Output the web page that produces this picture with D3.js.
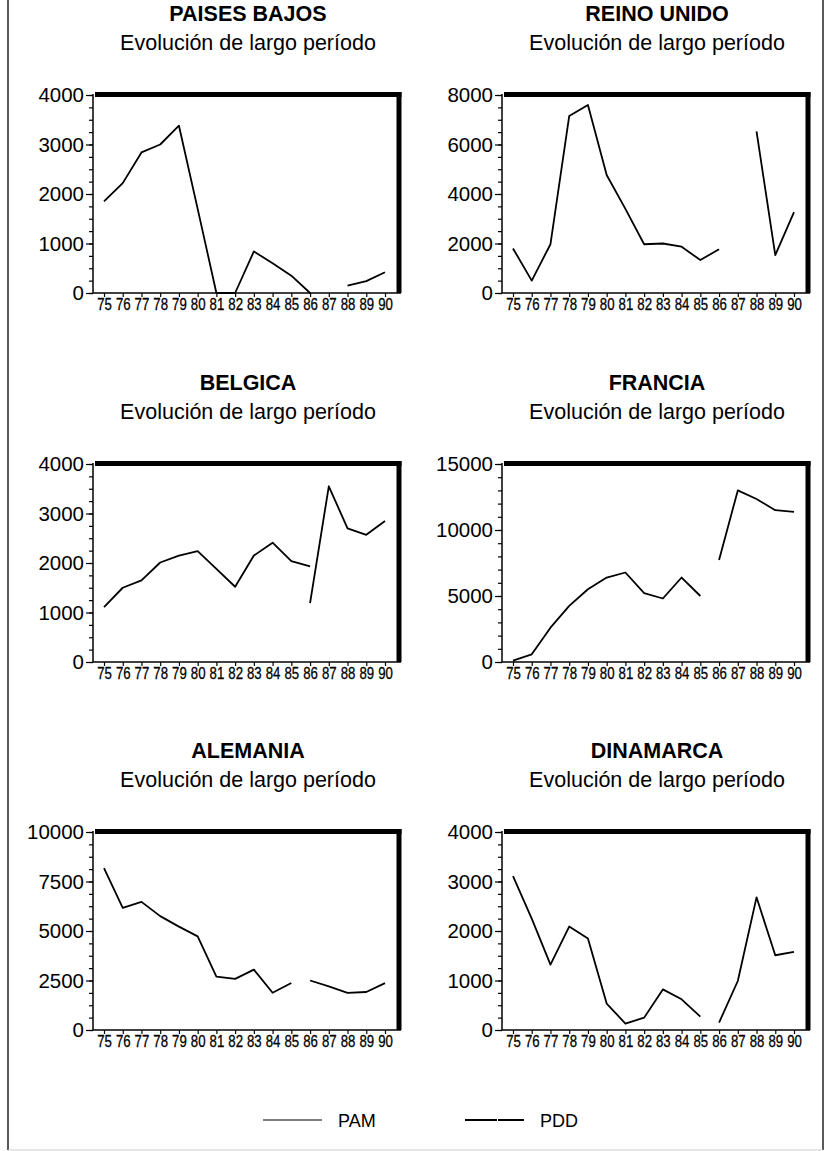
<!DOCTYPE html>
<html>
<head>
<meta charset="utf-8">
<style>
  body { margin: 0; background: #fff; }
  svg { display: block; font-family: "Liberation Sans", Arial, Helvetica, sans-serif; }
</style>
</head>
<body>
<div id="chart"></div>
<script src="https://d3js.org/d3.v7.min.js"></script>
<script>
// years on the x axis
var years = ["75", "76", "77", "78", "79", "80", "81", "82", "83", "84", "85", "86", "87", "88", "89", "90"];

// PAISES BAJOS
var pamPaisesBajos = [1850, 2220, 2840, 3000, 3380, 1700, 0, 0, 840, 600, 350, 0, null, null, null, null];
var pddPaisesBajos = [null, null, null, null, null, null, null, null, null, null, null, null, null, 150, 240, 420];
var ticksPaisesBajos = [0, 1000, 2000, 3000, 4000];

// REINO UNIDO
var pamReinoUnido = [1800, 500, 1970, 7150, 7600, 4770, 3400, 1970, 2000, 1870, 1330, 1770, null, null, null, null];
var pddReinoUnido = [null, null, null, null, null, null, null, null, null, null, null, null, null, 6530, 1530, 3270];
var ticksReinoUnido = [0, 2000, 4000, 6000, 8000];

// BELGICA
var pamBelgica = [1110, 1500, 1650, 2010, 2150, 2240, 1880, 1520, 2150, 2410, 2040, 1930, null, null, null, null];
var pddBelgica = [null, null, null, null, null, null, null, null, null, null, null, 1190, 3550, 2700, 2570, 2850];
var ticksBelgica = [0, 1000, 2000, 3000, 4000];

// FRANCIA
var pamFrancia = [100, 580, 2600, 4250, 5510, 6400, 6780, 5210, 4810, 6400, 5000, null, null, null, null, null];
var pddFrancia = [null, null, null, null, null, null, null, null, null, null, null, 7720, 13000, 12350, 11500, 11380];
var ticksFrancia = [0, 5000, 10000, 15000];

// ALEMANIA
var pamAlemania = [8170, 6170, 6470, 5750, 5220, 4730, 2700, 2580, 3050, 1880, 2370, null, null, null, null, null];
var pddAlemania = [null, null, null, null, null, null, null, null, null, null, null, 2500, 2200, 1880, 1920, 2370];
var ticksAlemania = [0, 2500, 5000, 7500, 10000];

// DINAMARCA
var pamDinamarca = [3110, 2250, 1320, 2090, 1850, 535, 130, 250, 820, 620, 270, null, null, null, null, null];
var pddDinamarca = [null, null, null, null, null, null, null, null, null, null, null, 150, 990, 2680, 1510, 1580];
var ticksDinamarca = [0, 1000, 2000, 3000, 4000];

var subtitle = "Evolución de largo período";
var legendNames = ["PAM", "PDD"];

var panels = [
  { title: "PAISES BAJOS", pam: pamPaisesBajos, pdd: pddPaisesBajos, ticks: ticksPaisesBajos, minor: 4, col: 0, row: 0 },
  { title: "REINO UNIDO", pam: pamReinoUnido, pdd: pddReinoUnido, ticks: ticksReinoUnido, minor: 4, col: 1, row: 0 },
  { title: "BELGICA", pam: pamBelgica, pdd: pddBelgica, ticks: ticksBelgica, minor: 4, col: 0, row: 1 },
  { title: "FRANCIA", pam: pamFrancia, pdd: pddFrancia, ticks: ticksFrancia, minor: 5, col: 1, row: 1 },
  { title: "ALEMANIA", pam: pamAlemania, pdd: pddAlemania, ticks: ticksAlemania, minor: 4, col: 0, row: 2 },
  { title: "DINAMARCA", pam: pamDinamarca, pdd: pddDinamarca, ticks: ticksDinamarca, minor: 4, col: 1, row: 2 }
];

var W = 825, H = 1151;
var colX = [93, 502];          // y axis position
var rowTop = [95, 464, 832];   // top of plot
var plotW = 306, plotH = 198;

var svg = d3.select("#chart").append("svg")
  .attr("width", W)
  .attr("height", H);

// outer frame
svg.append("line").attr("x1", 8).attr("x2", 8).attr("y1", 0).attr("y2", 1150)
  .attr("stroke", "#222").attr("stroke-width", 1.5);
svg.append("line").attr("x1", 823).attr("x2", 823).attr("y1", 0).attr("y2", 1150)
  .attr("stroke", "#222").attr("stroke-width", 1.5);
svg.append("line").attr("x1", 8).attr("x2", 823).attr("y1", 1150).attr("y2", 1150)
  .attr("stroke", "#ccc").attr("stroke-width", 1);

panels.forEach(function(p) {
  var x0 = colX[p.col], y0 = rowTop[p.row];
  var x1 = x0 + plotW, y1 = y0 + plotH;

  var g = svg.append("g");

  var xScale = d3.scalePoint()
    .domain(years)
    .range([x0 + 11, x0 + 292]);

  var yMax = p.ticks[p.ticks.length - 1];
  var yScale = d3.scaleLinear()
    .domain([0, yMax])
    .range([y1, y0]);

  // titles
  var cx = (x0 + x1) / 2 + 2;
  g.append("text")
    .attr("x", cx).attr("y", y0 - 74)
    .attr("text-anchor", "middle")
    .style("font-weight", "bold")
    .style("font-size", "21.5px")
    .text(p.title);
  g.append("text")
    .attr("x", cx).attr("y", y0 - 45)
    .attr("text-anchor", "middle")
    .style("font-size", "21.5px")
    .text(subtitle);

  // minor y ticks
  var step = p.ticks[1] / p.minor;
  g.append("g")
    .attr("transform", "translate(" + x0 + ",0)")
    .call(d3.axisLeft(yScale).tickValues(d3.range(0, yMax + 1, step)).tickSize(4).tickFormat(""))
    .call(function(a) { a.select(".domain").remove(); });

  // major y ticks
  var yAxis = g.append("g")
    .attr("transform", "translate(" + x0 + ",0)")
    .call(d3.axisLeft(yScale).tickValues(p.ticks).tickSize(7).tickPadding(2).tickFormat(d3.format("d")));
  yAxis.select(".domain").remove();
  yAxis.selectAll("text")
    .style("font-size", "20.5px")
    .style("font-family", "\"Liberation Sans\", Arial, sans-serif")
    .attr("fill", "#000");

  // x axis
  var xAxis = g.append("g")
    .attr("transform", "translate(0," + y1 + ")")
    .call(d3.axisBottom(xScale).tickSize(4).tickPadding(1));
  xAxis.select(".domain").remove();
  xAxis.selectAll("text")
    .style("font-size", "16.5px")
    .style("font-family", "\"Liberation Sans\", Arial, sans-serif")
    .attr("fill", "#000")
    .attr("stroke", "#000")
    .attr("stroke-width", 0.3)
    .attr("transform", "scale(0.8,1)");

  g.selectAll(".tick line").attr("stroke", "#000").attr("stroke-width", 1.2);

  // frame: thin left and bottom, heavy top and right
  g.append("line").attr("x1", x0).attr("x2", x0).attr("y1", y0 - 1).attr("y2", y1)
    .attr("stroke", "#000").attr("stroke-width", 1.5);
  g.append("line").attr("x1", x0).attr("x2", x1 + 2).attr("y1", y1).attr("y2", y1)
    .attr("stroke", "#000").attr("stroke-width", 1.5);
  g.append("line").attr("x1", x0 + 2).attr("x2", x1 + 2.5).attr("y1", y0 - 0.5).attr("y2", y0 - 0.5)
    .attr("stroke", "#000").attr("stroke-width", 5);
  g.append("line").attr("x1", x1).attr("x2", x1).attr("y1", y0 - 3).attr("y2", y1)
    .attr("stroke", "#000").attr("stroke-width", 5);

  var line = d3.line()
    .defined(function(d) { return d != null; })
    .x(function(d, i) { return xScale(years[i]); })
    .y(function(d) { return yScale(d); });

  g.append("path")
    .attr("d", line(p.pam))
    .attr("fill", "none")
    .attr("stroke", "#000")
    .attr("stroke-width", 1.8)
    .attr("stroke-linejoin", "round");

  g.append("path")
    .attr("d", line(p.pdd))
    .attr("fill", "none")
    .attr("stroke", "#000")
    .attr("stroke-width", 1.8)
    .attr("stroke-linejoin", "round");
});

// legend
var legend = svg.append("g");
legend.append("line").attr("x1", 263).attr("x2", 322).attr("y1", 1120).attr("y2", 1120)
  .attr("stroke", "#000").attr("stroke-width", 1.1);
legend.append("text").attr("x", 338).attr("y", 1127)
  .style("font-size", "18px").text(legendNames[0]);
legend.append("line").attr("x1", 465).attr("x2", 524).attr("y1", 1120).attr("y2", 1120)
  .attr("stroke", "#000").attr("stroke-width", 2.2)
  .attr("stroke-dasharray", "32,1,27");
legend.append("text").attr("x", 540).attr("y", 1127)
  .style("font-size", "18px").text(legendNames[1]);
</script>
</body>
</html>
